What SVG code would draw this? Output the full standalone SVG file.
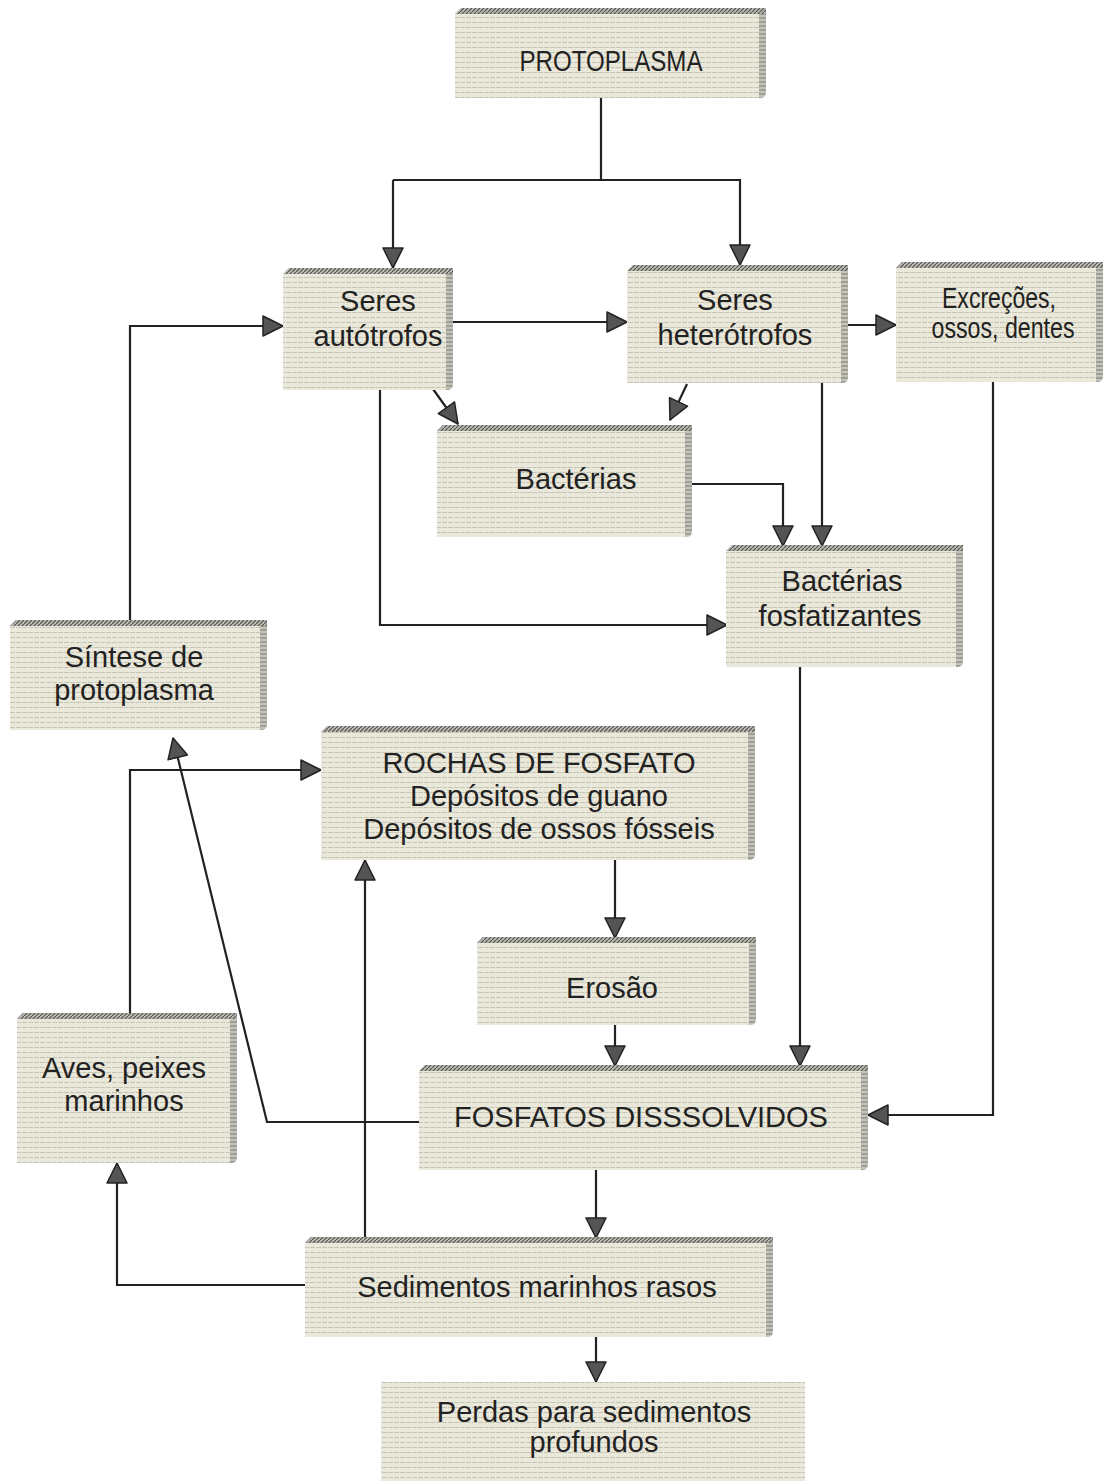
<svg xmlns="http://www.w3.org/2000/svg" width="1118" height="1481" viewBox="0 0 1118 1481">
<defs>
<pattern id="tex" width="6" height="5" patternUnits="userSpaceOnUse">
<rect width="6" height="5" fill="#eae8da"/>
<line x1="0" y1="2.5" x2="6" y2="2.5" stroke="#c6c4b2" stroke-width="1" stroke-dasharray="3 1"/>
</pattern>
<pattern id="hatch" width="4" height="4" patternUnits="userSpaceOnUse">
<rect width="4" height="4" fill="#b8b7ae"/>
<path d="M0,4 L4,0" stroke="#555" stroke-width="1.2"/>
</pattern>
<pattern id="vh" width="4" height="4" patternUnits="userSpaceOnUse">
<rect width="4" height="4" fill="#c4c3ba"/>
<line x1="0" y1="2" x2="4" y2="2" stroke="#7a7a72" stroke-width="1"/>
</pattern>
<marker id="ah" markerUnits="userSpaceOnUse" markerWidth="24" markerHeight="22" refX="21" refY="11" orient="auto">
<path d="M1,1 L21,11 L1,21 Z" fill="#545454" stroke="#222" stroke-width="1.5" stroke-linejoin="round"/>
</marker>
</defs>
<style>
.face{fill:url(#tex)}
.top{fill:url(#hatch)}
.side{fill:url(#vh)}
.t{font-family:"Liberation Sans",Arial,sans-serif;font-size:29px;fill:#222;text-anchor:middle}
.c{stroke:#222;stroke-width:2.2;fill:none}
.a{marker-end:url(#ah)}
</style>

<g id="connectors">
<polyline class="c" points="601,98 601,180 393,180"/>
<polyline class="c a" points="393,180 393,268"/>
<polyline class="c a" points="601,180 740,180 740,265"/>
<line class="c a" x1="453" y1="322" x2="627" y2="322"/>
<line class="c a" x1="848" y1="325" x2="896" y2="325"/>
<line class="c a" x1="433" y1="389" x2="458" y2="424"/>
<line class="c a" x1="687" y1="384" x2="670" y2="420"/>
<polyline class="c a" points="380,390 380,625 727,625"/>
<polyline class="c a" points="822,383 822,546"/>
<polyline class="c a" points="692,484 783,484 783,546"/>
<polyline class="c a" points="130,620 130,326 283,326"/>
<polyline class="c a" points="993,382 993,1115 868,1115"/>
<polyline class="c a" points="800,667 800,1066"/>
<polyline class="c a" points="615,860 615,938"/>
<polyline class="c a" points="615,1025 615,1066"/>
<polyline class="c a" points="130,1015 130,770 321,770"/>
<polyline class="c a" points="419,1122 267,1122 173,738"/>
<polyline class="c a" points="596,1170 596,1238"/>
<polyline class="c a" points="365,1237 365,860"/>
<polyline class="c a" points="305,1285 117,1285 117,1163"/>
<polyline class="c a" points="596,1337 596,1382"/>
</g>

<g id="n-protoplasma">
<rect class="face" x="455" y="14" width="304" height="84"/>
<path class="top" d="M455,14 L461,8 L766,8 L766,14 Z"/>
<path class="side" d="M759,14 L766,14 L766,92 Q766,98 760,98 L759,98 Z"/>
<text class="t" x="611" y="71" font-size="27" textLength="183" lengthAdjust="spacingAndGlyphs">PROTOPLASMA</text>
</g>

<g id="n-autotrofos">
<rect class="face" x="283" y="274" width="163" height="116"/>
<path class="top" d="M283,274 L289,268 L453,268 L453,274 Z"/>
<path class="side" d="M446,274 L453,274 L453,384 Q453,390 447,390 L446,390 Z"/>
<text class="t" x="378" y="311">Seres</text>
<text class="t" x="378" y="346">autótrofos</text>
</g>

<g id="n-heterotrofos">
<rect class="face" x="627" y="271" width="214" height="112"/>
<path class="top" d="M627,271 L633,265 L848,265 L848,271 Z"/>
<path class="side" d="M841,271 L848,271 L848,377 Q848,383 842,383 L841,383 Z"/>
<text class="t" x="735" y="310">Seres</text>
<text class="t" x="735" y="345">heterótrofos</text>
</g>

<g id="n-excrecoes">
<rect class="face" x="896" y="268" width="200" height="114"/>
<path class="top" d="M896,268 L902,262 L1103,262 L1103,268 Z"/>
<path class="side" d="M1096,268 L1103,268 L1103,376 Q1103,382 1097,382 L1096,382 Z"/>
<text class="t" x="999" y="308" font-size="25" textLength="114" lengthAdjust="spacingAndGlyphs">Excreções,</text>
<text class="t" x="1003" y="338" font-size="25" textLength="143" lengthAdjust="spacingAndGlyphs">ossos, dentes</text>
</g>

<g id="n-bacterias">
<rect class="face" x="437" y="431" width="248" height="106"/>
<path class="top" d="M437,431 L443,425 L692,425 L692,431 Z"/>
<path class="side" d="M685,431 L692,431 L692,531 Q692,537 686,537 L685,537 Z"/>
<text class="t" x="576" y="489">Bactérias</text>
</g>

<g id="n-fosfatizantes">
<rect class="face" x="726" y="551" width="230" height="116"/>
<path class="top" d="M726,551 L732,545 L963,545 L963,551 Z"/>
<path class="side" d="M956,551 L963,551 L963,661 Q963,667 957,667 L956,667 Z"/>
<text class="t" x="842" y="591">Bactérias</text>
<text class="t" x="840" y="626">fosfatizantes</text>
</g>

<g id="n-sintese">
<rect class="face" x="10" y="626" width="250" height="104"/>
<path class="top" d="M10,626 L16,620 L267,620 L267,626 Z"/>
<path class="side" d="M260,626 L267,626 L267,724 Q267,730 261,730 L260,730 Z"/>
<text class="t" x="134" y="667">Síntese de</text>
<text class="t" x="134" y="700">protoplasma</text>
</g>

<g id="n-rochas">
<rect class="face" x="321" y="732" width="427" height="128"/>
<path class="top" d="M321,732 L327,726 L755,726 L755,732 Z"/>
<path class="side" d="M748,732 L755,732 L755,854 Q755,860 749,860 L748,860 Z"/>
<text class="t" x="539" y="773" font-size="30">ROCHAS DE FOSFATO</text>
<text class="t" x="539" y="806" font-size="30">Depósitos de guano</text>
<text class="t" x="539" y="839" font-size="30">Depósitos de ossos fósseis</text>
</g>

<g id="n-erosao">
<rect class="face" x="477" y="943" width="272" height="82"/>
<path class="top" d="M477,943 L483,937 L756,937 L756,943 Z"/>
<path class="side" d="M749,943 L756,943 L756,1019 Q756,1025 750,1025 L749,1025 Z"/>
<text class="t" x="612" y="998">Erosão</text>
</g>

<g id="n-aves">
<rect class="face" x="17" y="1019" width="213" height="144"/>
<path class="top" d="M17,1019 L23,1013 L237,1013 L237,1019 Z"/>
<path class="side" d="M230,1019 L237,1019 L237,1157 Q237,1163 231,1163 L230,1163 Z"/>
<text class="t" x="124" y="1078">Aves, peixes</text>
<text class="t" x="124" y="1111">marinhos</text>
</g>

<g id="n-fosfatos">
<rect class="face" x="419" y="1071" width="442" height="99"/>
<path class="top" d="M419,1071 L425,1065 L868,1065 L868,1071 Z"/>
<path class="side" d="M861,1071 L868,1071 L868,1164 Q868,1170 862,1170 L861,1170 Z"/>
<text class="t" x="641" y="1127" font-size="27">FOSFATOS DISSSOLVIDOS</text>
</g>

<g id="n-sedimentos">
<rect class="face" x="305" y="1243" width="461" height="94"/>
<path class="top" d="M305,1243 L311,1237 L773,1237 L773,1243 Z"/>
<path class="side" d="M766,1243 L773,1243 L773,1331 Q773,1337 767,1337 L766,1337 Z"/>
<text class="t" x="537" y="1297">Sedimentos marinhos rasos</text>
</g>

<g id="n-perdas">
<rect class="face" x="381" y="1382" width="424" height="99"/>
<text class="t" x="594" y="1422">Perdas para sedimentos</text>
<text class="t" x="594" y="1452">profundos</text>
</g>
</svg>
